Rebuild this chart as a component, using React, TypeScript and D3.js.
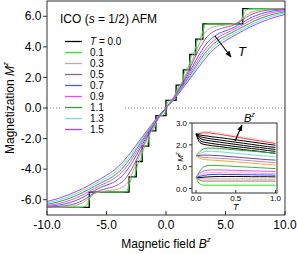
import React from 'react';
import * as d3 from 'd3';

const W = 297;
const H = 254;

// Legend / series
const temps = ['0.0', '0.1', '0.3', '0.5', '0.7', '0.9', '1.1', '1.3', '1.5'];
const colors = ['#000000', '#22ee22', '#caa2a2', '#9c5c88', '#4a5cff', '#ff44ff', '#33a033', '#66e4d4', '#a444f0'];

// T = 0 staircase (step-after)
const stepB = [-10, -6.45, -3.1, -2.5, -2.0, -1.45, -0.85, 0, 0.85, 1.45, 2.0, 2.5, 3.1, 6.45, 10];
const stepM = [-6.5, -5.5, -4.5, -3.5, -2.5, -1.5, -0.5, 0.5, 1.5, 2.5, 3.5, 4.5, 5.5, 6.5, 6.5];

// T = 0.1 (B >= 0 half; the curve is point-symmetric M(-B) = -M(B))
const t01B = [0, 0.1, 0.2, 0.4, 0.6, 0.75, 0.85, 0.95, 1.1, 1.3, 1.45, 1.6, 1.8, 2.0, 2.15, 2.3, 2.5, 2.65, 2.85, 3.1, 3.3, 3.6, 5.5, 6.1, 6.3, 6.45, 6.6, 6.8, 7.2, 10];
const t01M = [0, 0.3, 0.45, 0.5, 0.55, 0.75, 1.0, 1.25, 1.45, 1.55, 2.0, 2.45, 2.55, 3.0, 3.45, 3.55, 4.0, 4.45, 4.55, 5.0, 5.45, 5.5, 5.5, 5.55, 5.75, 6.0, 6.25, 6.45, 6.5, 6.5];

// Higher temperatures on a common field grid (B >= 0 half)
const gridB = [0, 0.25, 0.5, 0.75, 1, 1.25, 1.5, 1.75, 2, 2.25, 2.5, 2.75, 3, 3.25, 3.5, 4, 4.5, 5, 5.5, 6, 6.5, 7, 7.5, 8, 9, 10];
const m03 = [0, 0.3, 0.55, 0.85, 1.2, 1.55, 1.95, 2.35, 2.8, 3.2, 3.65, 4.1, 4.55, 4.9, 5.1, 5.3, 5.38, 5.42, 5.47, 5.6, 5.9, 6.2, 6.35, 6.42, 6.48, 6.5];
const m05 = [0, 0.25, 0.5, 0.8, 1.1, 1.45, 1.8, 2.2, 2.6, 3.0, 3.4, 3.8, 4.15, 4.45, 4.7, 5.0, 5.17, 5.27, 5.38, 5.55, 5.8, 6.05, 6.22, 6.33, 6.44, 6.48];
const m07 = [0, 0.22, 0.47, 0.75, 1.05, 1.38, 1.7, 2.05, 2.4, 2.75, 3.1, 3.45, 3.75, 4.05, 4.3, 4.65, 4.9, 5.05, 5.2, 5.4, 5.62, 5.85, 6.03, 6.17, 6.35, 6.43];
const m09 = [0, 0.2, 0.45, 0.72, 1.0, 1.3, 1.6, 1.92, 2.25, 2.58, 2.9, 3.2, 3.5, 3.78, 4.02, 4.4, 4.68, 4.88, 5.06, 5.26, 5.47, 5.68, 5.87, 6.02, 6.25, 6.37];
const m11 = [0, 0.2, 0.43, 0.68, 0.95, 1.23, 1.52, 1.82, 2.12, 2.42, 2.72, 3.02, 3.3, 3.55, 3.8, 4.2, 4.5, 4.72, 4.92, 5.12, 5.33, 5.53, 5.72, 5.88, 6.13, 6.3];
const m13 = [0, 0.2, 0.42, 0.66, 0.92, 1.18, 1.45, 1.73, 2.0, 2.28, 2.57, 2.85, 3.12, 3.38, 3.6, 4.0, 4.32, 4.55, 4.78, 4.98, 5.2, 5.4, 5.58, 5.75, 6.02, 6.22];
const m15 = [0, 0.2, 0.41, 0.64, 0.88, 1.13, 1.38, 1.64, 1.9, 2.16, 2.42, 2.68, 2.94, 3.18, 3.42, 3.82, 4.15, 4.4, 4.63, 4.85, 5.07, 5.27, 5.45, 5.62, 5.9, 6.12];

const xTicks = [-10, -5, 0, 5, 10];
const yTicks = [-6, -4, -2, 0, 2, 4, 6];

// Inset: M^z vs T for several fields
const insetT = [0, 0.05, 0.1, 0.15, 0.2, 0.3, 0.4, 0.5, 0.6, 0.7, 0.8, 0.9, 1.0];
const insetColors = ['#dcdcdc', '#ff3333', '#000', '#000', '#000', '#000', '#000',
  '#33a833', '#66e4d4', '#7a3a9a', '#c088c8', '#ffaa22',
  '#33b833', '#ff44ff', '#ffa8d8', '#3344ff', '#000', '#caa2a2', '#a07070', '#22ee22'];
const insetM = [
  [2.5, 2.56, 2.6, 2.61, 2.6, 2.55, 2.48, 2.42, 2.36, 2.3, 2.24, 2.19, 2.14],
  [2.5, 2.52, 2.55, 2.55, 2.53, 2.48, 2.42, 2.36, 2.3, 2.24, 2.18, 2.12, 2.06],
  [2.5, 2.45, 2.42, 2.4, 2.37, 2.33, 2.28, 2.23, 2.18, 2.13, 2.08, 2.03, 1.98],
  [2.5, 2.38, 2.33, 2.3, 2.27, 2.22, 2.17, 2.12, 2.07, 2.02, 1.97, 1.92, 1.88],
  [2.5, 2.3, 2.23, 2.2, 2.17, 2.12, 2.07, 2.02, 1.97, 1.92, 1.88, 1.83, 1.79],
  [2.5, 2.2, 2.12, 2.09, 2.06, 2.01, 1.97, 1.92, 1.88, 1.83, 1.79, 1.74, 1.7],
  [2.5, 2.1, 2.02, 1.99, 1.96, 1.92, 1.87, 1.83, 1.78, 1.74, 1.7, 1.65, 1.61],
  [1.5, 1.7, 1.82, 1.85, 1.85, 1.83, 1.8, 1.77, 1.74, 1.71, 1.68, 1.65, 1.62],
  [1.5, 1.6, 1.68, 1.7, 1.7, 1.68, 1.65, 1.61, 1.58, 1.54, 1.51, 1.48, 1.45],
  [1.5, 1.52, 1.53, 1.53, 1.52, 1.5, 1.47, 1.44, 1.41, 1.38, 1.35, 1.32, 1.3],
  [1.5, 1.45, 1.42, 1.41, 1.4, 1.38, 1.36, 1.33, 1.3, 1.27, 1.24, 1.21, 1.18],
  [1.5, 1.38, 1.33, 1.31, 1.3, 1.28, 1.25, 1.22, 1.19, 1.16, 1.13, 1.1, 1.07],
  [0.5, 0.8, 1.0, 1.05, 1.06, 1.05, 1.03, 1.01, 0.99, 0.97, 0.95, 0.93, 0.91],
  [0.5, 0.7, 0.8, 0.84, 0.85, 0.85, 0.84, 0.83, 0.82, 0.81, 0.8, 0.79, 0.78],
  [0.5, 0.62, 0.7, 0.72, 0.73, 0.73, 0.72, 0.71, 0.71, 0.7, 0.69, 0.68, 0.68],
  [0.5, 0.56, 0.6, 0.63, 0.64, 0.65, 0.64, 0.64, 0.63, 0.63, 0.62, 0.62, 0.61],
  [0.5, 0.5, 0.52, 0.53, 0.54, 0.55, 0.55, 0.55, 0.55, 0.54, 0.54, 0.54, 0.53],
  [0.5, 0.45, 0.44, 0.44, 0.44, 0.44, 0.44, 0.44, 0.44, 0.43, 0.43, 0.43, 0.43],
  [0.5, 0.38, 0.34, 0.34, 0.34, 0.34, 0.34, 0.34, 0.34, 0.34, 0.34, 0.34, 0.34],
  [0.5, 0.2, 0.15, 0.15, 0.15, 0.15, 0.15, 0.15, 0.15, 0.15, 0.15, 0.15, 0.15],
];
const insetXTicks = [0, 0.5, 1.0];
const insetYTicks = [0, 1, 2, 3];

const FONT = '"Liberation Sans", Arial, Helvetica, sans-serif';

function mirror(B: number[], M: number[]): [number, number][] {
  const pts: [number, number][] = [];
  for (let i = B.length - 1; i > 0; i--) pts.push([-B[i], -M[i]]);
  for (let i = 0; i < B.length; i++) pts.push([B[i], M[i]]);
  return pts;
}

export default function App() {
  const left = 47, right = 285, top = 1, bottom = 215;
  const x = d3.scaleLinear().domain([-10, 10]).range([left, right]);
  const y = d3.scaleLinear().domain([-7, 7]).range([bottom, top]);

  const line = d3.line<[number, number]>().x(d => x(d[0])).y(d => y(d[1])).curve(d3.curveMonotoneX);
  const stepLine = d3.line<[number, number]>().x(d => x(d[0])).y(d => y(d[1])).curve(d3.curveStepAfter);

  const series: [number, number][][] = [
    stepB.map((b, i) => [b, stepM[i]] as [number, number]),
    mirror(t01B, t01M),
    mirror(gridB, m03),
    mirror(gridB, m05),
    mirror(gridB, m07),
    mirror(gridB, m09),
    mirror(gridB, m11),
    mirror(gridB, m13),
    mirror(gridB, m15),
  ];

  // inset
  const iL = 192, iR = 277, iT = 123, iB = 193;
  const ix = d3.scaleLinear().domain([0, 1]).range([196, 275.5]);
  const iy = d3.scaleLinear().domain([0, 3]).range([188.5, 123]);
  const iline = d3.line<number>().x((_, i) => ix(insetT[i])).y(d => iy(d)).curve(d3.curveMonotoneX);

  const legX = 65, legY0 = 41.5, legDY = 11;

  return (
    <svg width={W} height={H} style={{ position: 'absolute', left: 0, top: 0, background: '#fff' }} fontFamily={FONT}>
      <defs>
        <clipPath id="mainClip"><rect x={left} y={top} width={right - left} height={bottom - top} /></clipPath>
        <clipPath id="insetClip"><rect x={iL} y={iT} width={iR - iL} height={iB - iT} /></clipPath>
        <marker id="arr" viewBox="0 0 10 10" refX="9" refY="5" markerWidth="6" markerHeight="6" orient="auto">
          <path d="M0,1 L10,5 L0,9 z" fill="#000" />
        </marker>
      </defs>
      <rect x={0} y={0} width={W} height={H} fill="#fff" />

      {/* zero line */}
      <line x1={left} x2={right} y1={y(0)} y2={y(0)} stroke="#777" strokeWidth={1} strokeDasharray="1,2" />

      {/* curves */}
      <g clipPath="url(#mainClip)" fill="none">
        {series.map((s, i) => (
          <path key={i} d={(i === 0 ? stepLine(s) : line(s)) || ''} stroke={colors[i]} strokeWidth={i === 0 ? 1.3 : 1} />
        ))}
      </g>

      {/* legend */}
      <rect x={60} y={34} width={64} height={101} fill="#fff" />
      {temps.map((t, i) => (
        <g key={t}>
          <line x1={legX} x2={legX + 17} y1={legY0 + i * legDY} y2={legY0 + i * legDY} stroke={colors[i]} strokeWidth={1.3} />
          <text x={90} y={legY0 + i * legDY + 3.5} fontSize={10}>
            {i === 0 ? (<><tspan fontStyle="italic">T</tspan> = {t}</>) : t}
          </text>
        </g>
      ))}

      {/* title */}
      <text x={60} y={23} fontSize={12}>ICO (<tspan fontStyle="italic">s</tspan> = 1/2) AFM</text>

      {/* T arrow */}
      <line x1={215} y1={36} x2={231} y2={57} stroke="#000" strokeWidth={1.1} markerEnd="url(#arr)" />
      <text x={238} y={56} fontSize={13} fontStyle="italic">T</text>

      {/* frame */}
      <rect x={left} y={top} width={right - left} height={bottom - top} fill="none" stroke="#333" strokeWidth={1} />

      {/* x ticks */}
      {xTicks.map(t => (
        <g key={t}>
          <line x1={x(t)} x2={x(t)} y1={bottom} y2={bottom - 4} stroke="#333" />
          <text x={x(t)} y={229} fontSize={12} textAnchor="middle">{t.toFixed(1)}</text>
        </g>
      ))}
      {/* y ticks */}
      {yTicks.map(t => (
        <g key={t}>
          <line x1={left} x2={left - 4} y1={y(t)} y2={y(t)} stroke="#333" />
          <text x={41.5} y={y(t) + 4.2} fontSize={12} textAnchor="end">{t.toFixed(1)}</text>
        </g>
      ))}

      <text x={166} y={248} fontSize={12} textAnchor="middle">
        Magnetic field <tspan fontStyle="italic">B</tspan><tspan fontSize={8} dy={-6} fontStyle="italic">z</tspan>
      </text>
      <text transform={`translate(14,${y(0)}) rotate(-90)`} fontSize={12} textAnchor="middle">
        Magnetization <tspan fontStyle="italic">M</tspan><tspan fontSize={8} dy={-6} fontStyle="italic">z</tspan>
      </text>

      {/* inset */}
      <rect x={iL} y={iT} width={iR - iL} height={iB - iT} fill="#fff" />
      <g clipPath="url(#insetClip)" fill="none">
        {insetM.map((m, i) => (
          <path key={i} d={iline(m) || ''} stroke={insetColors[i]} strokeWidth={1} />
        ))}
      </g>
      <rect x={iL} y={iT} width={iR - iL} height={iB - iT} fill="none" stroke="#333" strokeWidth={1} />
      {insetXTicks.map(t => (
        <g key={t}>
          <line x1={ix(t)} x2={ix(t)} y1={iB} y2={iB - 3} stroke="#333" />
          <text x={ix(t)} y={201} fontSize={8} textAnchor="middle">{t.toFixed(1)}</text>
        </g>
      ))}
      {insetYTicks.map(t => (
        <g key={t}>
          <line x1={iL} x2={iL - 3} y1={iy(t)} y2={iy(t)} stroke="#333" />
          <text x={187} y={iy(t) + 3} fontSize={8} textAnchor="end">{t.toFixed(1)}</text>
        </g>
      ))}
      <text x={ix(0.5)} y={210} fontSize={9} fontStyle="italic" textAnchor="middle">T</text>
      <text transform={`translate(${183},${157}) rotate(-90)`} fontSize={8} textAnchor="middle">
        <tspan fontStyle="italic">M</tspan><tspan fontSize={6} dy={-4} fontStyle="italic">z</tspan>
      </text>

      {/* B arrow in inset */}
      <line x1={235} y1={141} x2={242} y2={125} stroke="#000" strokeWidth={1.1} markerEnd="url(#arr)" />
      <text x={244} y={122} fontSize={11} fontStyle="italic">B<tspan fontSize={7} dy={-5}>z</tspan></text>
    </svg>
  );
}
